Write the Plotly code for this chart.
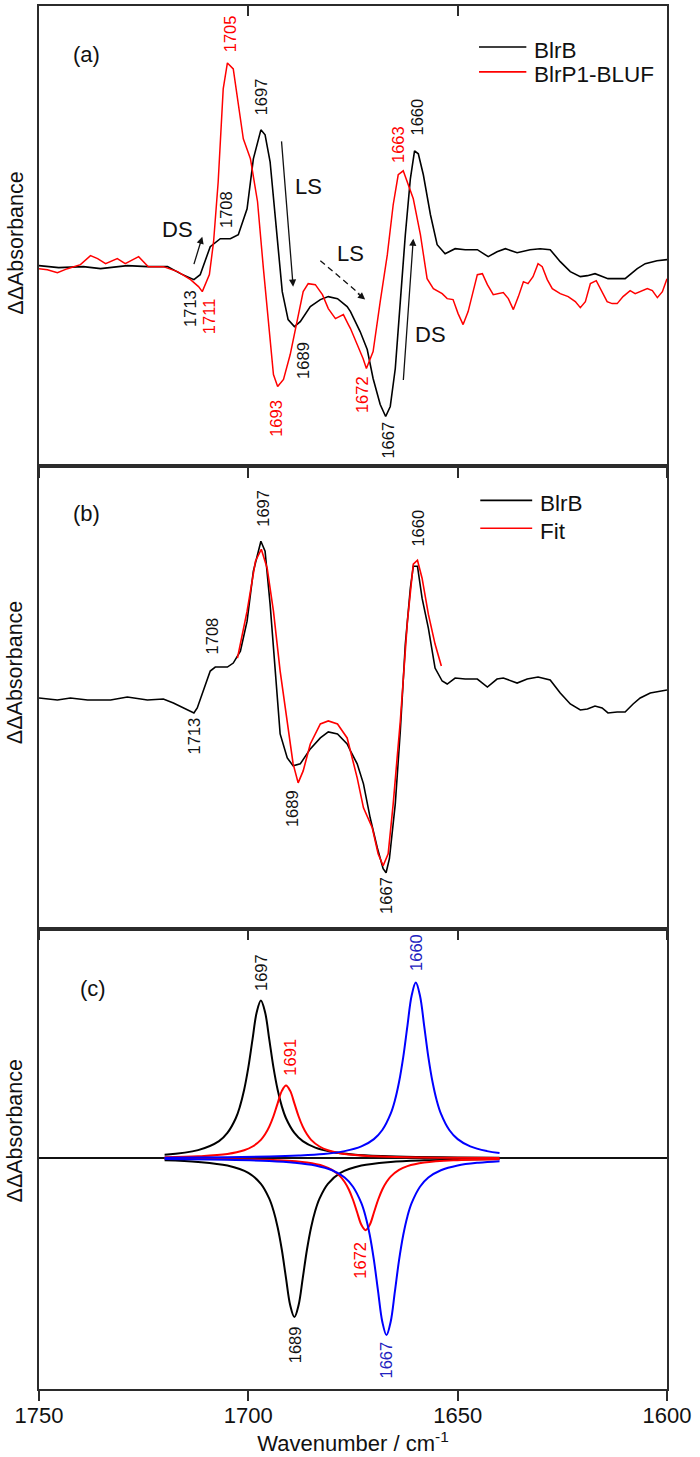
import plotly.graph_objects as go

# ---------------- data ----------------
# Panel (a): BlrB (black) and BlrP1-BLUF (red) double-difference spectra
a_blrb_x = [1750, 1745.3, 1739.4, 1735.3, 1728.9, 1724.1, 1719.3, 1716.2, 1713, 1711.5, 1709.1, 1706.7,
            1704.3, 1702.4, 1700.3, 1698.8, 1697, 1696.0, 1694.8, 1693.1, 1691.9, 1690.5, 1689, 1687.6,
            1685.2, 1682.8, 1680.9, 1678.7, 1676.4, 1675.6, 1673.3, 1671.6, 1670.2, 1668.5, 1667.2, 1666.1,
            1664.9, 1663.7, 1662.5, 1661.3, 1660.3, 1659.4, 1658.2, 1656.5, 1654.9, 1653.0, 1650.6, 1648.2,
            1645.3, 1642.7, 1640.6, 1638.6, 1635.8, 1632.7, 1630.3, 1627.9, 1625.5, 1623.1, 1620.7, 1619.0,
            1617.2, 1615.3, 1614.1, 1611.9, 1610.0, 1607.1, 1605.2, 1602.4, 1600]
a_blrb_y = [1, -1, 0, -2, 1, 0, 0, -7, -13, -8, 20, 28,
            28, 32, 58, 108, 137, 132, 105, 32, -25, -53, -60, -55,
            -40, -33, -30, -32, -40, -45, -65, -83, -112, -138, -150, -140,
            -102, -35, 32, 88, 116, 113, 92, 52, 22, 13, 18, 17,
            17, 10, 15, 18, 14, 17, 18, 17, 5, -5, -10, -9,
            -7, -10, -12, -12, -12, -2, 3, 6, 7]

a_blrp1_x = [1750, 1748.0, 1745.6, 1743.2, 1740.1, 1737.7, 1736.0, 1734.1, 1731.3, 1729.4, 1726.2, 1723.9,
             1720.3, 1716.9, 1713.8, 1711.9, 1711, 1709.3, 1708.3, 1707.2, 1706.0, 1705, 1703.6, 1702.4,
             1701.2, 1699.5, 1697.8, 1696.4, 1695.2, 1694.0, 1693, 1691.6, 1690.0, 1688.3, 1686.9, 1685.7,
             1684.0, 1682.3, 1680.9, 1679.2, 1677.3, 1676.1, 1675.6, 1674.0, 1672.6, 1671.8, 1670.2, 1668.5,
             1666.8, 1665.4, 1664.2, 1663.0, 1661.8, 1660.6, 1658.9, 1657.3, 1655.8, 1653.7, 1652.5, 1651.1,
             1649.9, 1648.7, 1647.5, 1645.3, 1644.1, 1642.9, 1641.5, 1639.1, 1637.9, 1636.7, 1635.5, 1634.3,
             1633.2, 1632.0, 1630.8, 1629.8, 1628.6, 1627.4, 1625.5, 1623.6, 1621.9, 1620.7, 1619.5, 1618.3,
             1616.9, 1615.5, 1614.3, 1613.1, 1611.9, 1610.5, 1608.8, 1607.6, 1606.4, 1604.7, 1603.5, 1602.3,
             1601.1, 1600]
a_blrp1_y = [-2, -3, -6, -2, 2, 11, 8, 3, 8, 3, 10, 0,
             0, -5, -13, -20, -25, -8, 25, 85, 178, 204, 198, 165,
             128, 108, 65, -2, -55, -108, -120, -113, -88, -52, -25, -17,
             -18, -28, -42, -52, -48, -58, -62, -78, -92, -102, -85, -35,
             12, 62, 92, 96, 82, 68, 32, -12, -22, -27, -32, -33,
             -47, -58, -45, -8, -7, -18, -28, -26, -32, -43, -30, -15,
             -17, -10, 3, 0, -13, -22, -27, -30, -35, -41, -35, -17,
             -14, -25, -35, -37, -37, -30, -24, -27, -25, -22, -24, -31,
             -25, -12]

# Panel (b): BlrB and the fit
b_blrb_x = [1750, 1745.6, 1742.5, 1738.4, 1732.9, 1728.9, 1724.1, 1720.3, 1717.9, 1715.5, 1713, 1712.2,
            1710.7, 1709.1, 1707.9, 1705.0, 1703.6, 1701.9, 1700.3, 1698.8, 1697, 1696.0, 1694.8, 1693.6,
            1692.4, 1690.7, 1689.3, 1687.6, 1685.2, 1682.8, 1680.9, 1678.7, 1676.4, 1675.6, 1674.0, 1672.5,
            1670.9, 1669.2, 1667.8, 1667.1, 1666.3, 1664.9, 1663.7, 1662.5, 1661.3, 1660.6, 1659.6, 1658.5,
            1657.0, 1655.4, 1653.7, 1652.5, 1650.6, 1648.2, 1645.3, 1642.9, 1640.6, 1639.1, 1635.8, 1633.4,
            1630.8, 1627.9, 1625.5, 1623.1, 1620.7, 1619.0, 1617.2, 1615.5, 1614.1, 1611.9, 1610.0, 1608.1,
            1606.4, 1604.0, 1600]
b_blrb_y = [1, -1, 1, -1, -1, 2, -1, 0, -4, -9, -14, -9,
            8, 28, 32, 32, 36, 48, 78, 128, 158, 148, 95, 28,
            -35, -59, -67, -65, -50, -39, -33, -35, -45, -52, -65, -85,
            -119, -149, -170, -174, -160, -105, -32, 55, 111, 133, 133, 101,
            71, 31, 18, 15, 21, 20, 20, 12, 20, 21, 16, 20,
            22, 19, 6, -5, -11, -10, -7, -9, -14, -13, -13, -5,
            1, 6, 9]

b_fit_x = [1702.6, 1700.3, 1698.3, 1696.9, 1695.5, 1694.0, 1692.4, 1690.7, 1689.3, 1688.1, 1686.9, 1685.2,
           1682.8, 1680.9, 1678.7, 1676.4, 1675.6, 1674.0, 1672.5, 1670.4, 1669.0, 1667.8, 1666.6, 1665.4,
           1663.7, 1662.0, 1660.6, 1659.6, 1658.5, 1657.0, 1655.4, 1653.9]
b_fit_y = [41, 88, 138, 150, 131, 88, 28, -25, -65, -84, -72, -45,
           -25, -22, -25, -39, -52, -79, -109, -129, -155, -167, -155, -105,
           -22, 78, 135, 139, 121, 85, 55, 33]

# Panel (c): fitted band components
c_k_pos_x = [1720, 1712, 1707, 1705, 1703, 1702, 1701, 1700, 1699, 1698, 1697, 1696, 1695, 1694, 1693,
             1692, 1691, 1689, 1687, 1684, 1680, 1675, 1668, 1660, 1650, 1640]
c_k_pos_y = [3.6, 8.2, 17.2, 25.4, 40.1, 52.0, 68.6, 91.0, 119.1, 146.2, 158, 146.2, 119.1, 91.0, 68.6,
             52.0, 40.1, 25.4, 17.2, 10.7, 6.4, 3.9, 2.3, 1.4, 0.9, 0.6]
c_k_neg_x = [1720, 1712, 1705, 1700, 1697, 1695, 1694, 1693, 1692, 1691, 1690, 1689, 1688, 1687, 1686,
             1685, 1684, 1683, 1681, 1678, 1673, 1666, 1658, 1650, 1640]
c_k_neg_y = [-2.0, -3.6, -7.3, -14.6, -25.6, -40.4, -52.3, -69.0, -91.6, -119.9, -147.1, -159, -147.1,
             -119.9, -91.6, -69.0, -52.3, -40.4, -25.6, -14.6, -7.3, -3.6, -2.0, -1.3, -0.8]
c_r_pos_x = [1720, 1712, 1705, 1701, 1699, 1697, 1696, 1695, 1694, 1693, 1692, 1691, 1690, 1689, 1688,
             1687, 1686, 1685, 1683, 1681, 1677, 1670, 1662, 1652, 1640]
c_r_pos_y = [1.0, 2.0, 4.3, 8.0, 11.8, 18.5, 24.0, 31.7, 42.1, 55.0, 67.5, 73, 67.5, 55.0, 42.1,
             31.7, 24.0, 18.5, 11.8, 8.0, 4.3, 2.0, 1.0, 0.6, 0.3]
c_r_neg_x = [1720, 1710, 1700, 1693, 1686, 1682, 1680, 1678, 1677, 1676, 1675, 1674, 1673, 1672, 1671,
             1670, 1669, 1668, 1667, 1666, 1664, 1662, 1658, 1651, 1640]
c_r_neg_y = [-0.4, -0.6, -1.1, -1.9, -4.2, -7.8, -11.6, -18.3, -23.7, -31.2, -41.5, -54.3, -66.6, -72,
             -66.6, -54.3, -41.5, -31.2, -23.7, -18.3, -11.6, -7.8, -4.2, -1.9, -0.85]
c_b_pos_x = [1720, 1705, 1695, 1688, 1682, 1677, 1673, 1670, 1668, 1666, 1665, 1664, 1663, 1662, 1661,
             1660, 1659, 1658, 1657, 1656, 1655, 1654, 1652, 1650, 1647, 1643, 1640]
c_b_pos_y = [0.6, 1.1, 1.7, 2.7, 4.3, 7.2, 11.9, 19.2, 28.3, 44.7, 57.9, 76.4, 101.4, 132.7, 162.8,
             176, 162.8, 132.7, 101.4, 76.4, 57.9, 44.7, 28.3, 19.2, 11.9, 7.2, 5.2]
c_b_neg_x = [1720, 1705, 1695, 1689, 1684, 1680, 1677, 1675, 1673, 1672, 1671, 1670, 1669, 1668, 1667,
             1666, 1665, 1664, 1663, 1662, 1661, 1659, 1657, 1654, 1650, 1645, 1640]
c_b_neg_y = [-0.8, -1.5, -2.7, -4.4, -7.2, -12.0, -19.3, -28.5, -45.0, -58.2, -76.8, -102.0, -133.5,
             -163.7, -177, -163.7, -133.5, -102.0, -76.8, -58.2, -45.0, -28.5, -19.3, -12.0, -7.2, -4.4, -2.9]

# Peak labels: (text, x, y, colour key)
a_labels = [("1713", 1714.1, -42, "k"), ("1711", 1709.5, -50, "r"), ("1708", 1705.5, 57, "k"),
            ("1697", 1697.1, 170, "k"), ("1705", 1704.3, 233, "r"), ("1693", 1693.3, -152, "r"),
            ("1689", 1687.1, -94, "k"), ("1672", 1672.7, -128, "r"), ("1667", 1666.6, -174, "k"),
            ("1663", 1664.2, 122, "r"), ("1660", 1659.8, 150, "k")]
b_labels = [("1697", 1696.4, 191, "k"), ("1708", 1708.6, 63, "k"), ("1713", 1713.1, -37, "k"),
            ("1689", 1689.5, -110, "k"), ("1660", 1659.4, 171, "k"), ("1667", 1667.3, -197, "k")]
c_labels = [("1697", 1697.1, 186, "k"), ("1691", 1690.0, 101, "r"), ("1689", 1688.8, -187, "k"),
            ("1660", 1660.1, 206, "b"), ("1672", 1673.2, -102, "r"), ("1667", 1667.0, -202, "b")]

x_ticks = [1750, 1700, 1650, 1600]

# ---------------- styling ----------------
FONT = "Liberation Sans, Arial, sans-serif"
BLACK = "#000000"
RED = "#FF0000"
BLUE = "#0000FF"
LBLUE = "#2222C0"
AX = "#2b2b2b"
COL = {"k": "#111111", "r": RED, "b": LBLUE}

W, H = 700, 1457
ML, MR, MT, MB = 39, 33, 4, 68
d1 = 0.3329
d2 = 0.6671

fig = go.Figure()


def line(x, y, color, xa, ya, width=1.6, shape="linear"):
    fig.add_trace(go.Scatter(x=x, y=y, mode="lines", xaxis=xa, yaxis=ya, showlegend=False,
                             line=dict(color=color, width=width, shape=shape, smoothing=1.0),
                             hoverinfo="skip"))


# panel a (x3/y3)
line(a_blrb_x, a_blrb_y, BLACK, "x3", "y3")
line(a_blrp1_x, a_blrp1_y, RED, "x3", "y3", width=1.5)
# panel b (x2/y2)
line(b_blrb_x, b_blrb_y, BLACK, "x2", "y2")
line(b_fit_x, b_fit_y, RED, "x2", "y2")
# panel c (x/y)
line(c_k_pos_x, c_k_pos_y, BLACK, "x", "y", 2, "spline")
line(c_k_neg_x, c_k_neg_y, BLACK, "x", "y", 2, "spline")
line(c_r_pos_x, c_r_pos_y, RED, "x", "y", 2, "spline")
line(c_r_neg_x, c_r_neg_y, RED, "x", "y", 2, "spline")
line(c_b_pos_x, c_b_pos_y, BLUE, "x", "y", 2, "spline")
line(c_b_neg_x, c_b_neg_y, BLUE, "x", "y", 2, "spline")
# helper trace for the top tick axis of panel a
fig.add_trace(go.Scatter(x=[1750], y=[0], mode="markers", marker=dict(opacity=0), xaxis="x4", yaxis="y3",
                         showlegend=False, hoverinfo="skip"))

common_x = dict(range=[1750, 1600], showgrid=False, zeroline=False, showline=True, linecolor=AX,
                linewidth=1.6, mirror=True, ticks="outside", ticklen=10, tickwidth=1.5, tickcolor=AX,
                tickvals=x_ticks)
common_y = dict(showgrid=False, showline=True, linecolor=AX, linewidth=1.6, mirror=True, ticks="",
                showticklabels=False)

fig.update_layout(
    width=W, height=H, margin=dict(l=ML, r=MR, t=MT, b=MB),
    paper_bgcolor="white", plot_bgcolor="rgba(0,0,0,0)",
    font=dict(family=FONT, color="#111111", size=22),
    showlegend=False,
    xaxis=dict(**common_x, anchor="y", showticklabels=True, automargin=False,
               tickfont=dict(size=22, color="#111111"), ticklabelstandoff=-4,
               title=dict(text="Wavenumber / cm<sup>-1</sup>", font=dict(size=22), standoff=8)),
    xaxis2=dict(**common_x, anchor="y2", showticklabels=False, matches="x"),
    xaxis3=dict(**common_x, anchor="y3", showticklabels=False, matches="x"),
    xaxis4=dict(range=[1750, 1600], overlaying="x3", anchor="y3", side="top", showgrid=False,
                zeroline=False, showline=False, ticks="inside", ticklen=10, tickwidth=1.5,
                tickcolor=AX, tickvals=[1700, 1650], showticklabels=False),
    yaxis=dict(**common_y, domain=[0, d1], range=[-231, 230], zeroline=True, zerolinecolor="#111111",
               zerolinewidth=2),
    yaxis2=dict(**common_y, domain=[d1, d2], range=[-230, 233], zeroline=False),
    yaxis3=dict(**common_y, domain=[d2, 1], range=[-200, 261], zeroline=False),
)

ann = []
for labels, xa, ya in ((a_labels, "x3", "y3"), (b_labels, "x2", "y2"), (c_labels, "x", "y")):
    for txt, x, y, c in labels:
        ann.append(dict(text=txt, x=x, y=y, xref=xa, yref=ya, showarrow=False, textangle=-90,
                        font=dict(size=16.5, color=COL[c]), xanchor="center", yanchor="middle"))

# panel letters
ann.append(dict(text="(a)", x=1738.7, y=212, xref="x3", yref="y3", showarrow=False, font=dict(size=22)))
ann.append(dict(text="(b)", x=1738.7, y=186, xref="x2", yref="y2", showarrow=False, font=dict(size=22)))
ann.append(dict(text="(c)", x=1737.2, y=170, xref="x", yref="y", showarrow=False, font=dict(size=22)))

# y-axis titles
for yp in (0.8282, 0.5177, 0.1863):
    ann.append(dict(text="ΔΔAbsorbance", x=-0.038, y=yp, xref="paper", yref="paper", showarrow=False,
                    textangle=-90, font=dict(size=21.5), xanchor="center", yanchor="middle"))

# DS / LS text
for txt, x, y in (("DS", 1716.9, 37), ("LS", 1685.7, 80), ("LS", 1675.6, 13), ("DS", 1656.5, -68)):
    ann.append(dict(text=txt, x=x, y=y, xref="x3", yref="y3", showarrow=False, font=dict(size=22)))

# arrows (head x,y ; tail ax,ay)
for hx, hy, tx, ty in ((1711.0, 30, 1713.1, 1), (1689.3, -20, 1692.1, 127), (1660.6, 28, 1663.0, -115)):
    ann.append(dict(text="", x=hx, y=hy, ax=tx, ay=ty, xref="x3", yref="y3", axref="x3", ayref="y3",
                    showarrow=True, arrowhead=2, arrowsize=1.1, arrowwidth=1.3, arrowcolor="#111111"))
# dashed arrow: dashed shaft as shape, head as short annotation arrow
ann.append(dict(text="", x=1672.1, y=-33, ax=1674.2, ay=-25.5, xref="x3", yref="y3", axref="x3",
                ayref="y3", showarrow=True, arrowhead=2, arrowsize=1.1, arrowwidth=1.3,
                arrowcolor="#111111"))
shapes = [dict(type="line", x0=1682.8, y0=6, x1=1673.5, y1=-27, xref="x3", yref="y3",
               line=dict(color="#111111", width=1.3, dash="6px,4px"))]

# legends (drawn manually to match the reference)
leg = [("x3", "y3", 1644.9, 1633.6, 1632.2, [(220, 216, BLACK, "BlrB"), (195, 192, RED, "BlrP1-BLUF")]),
       ("x2", "y2", 1644.6, 1632.2, 1630.8, [(199, 196, BLACK, "BlrB"), (171, 168, RED, "Fit")])]
for xa, ya, x0, x1, xt, items in leg:
    for yl, yt, col, txt in items:
        shapes.append(dict(type="line", x0=x0, x1=x1, y0=yl, y1=yl, xref=xa, yref=ya,
                           line=dict(color=col, width=1.6)))
        ann.append(dict(text=txt, x=xt, y=yt, xref=xa, yref=ya, showarrow=False, xanchor="left",
                        yanchor="middle", font=dict(size=22.5)))

fig.update_layout(annotations=ann, shapes=shapes)
fig.write_html("out.html", config={"displayModeBar": False},
               post_script="document.body.style.margin='0';document.body.style.overflow='hidden';")
